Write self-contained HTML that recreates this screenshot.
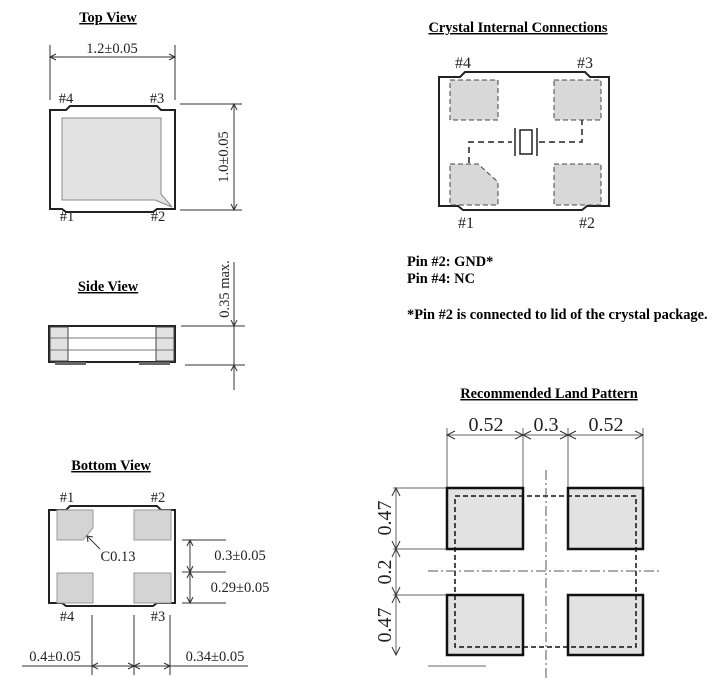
<!DOCTYPE html>
<html><head><meta charset="utf-8"><style>
html,body{margin:0;padding:0;background:#fff;}
svg{display:block;}
.t{font-family:"Liberation Serif",serif;font-weight:bold;font-size:14.4px;text-decoration:underline;}
.d{font-family:"Liberation Serif",serif;font-size:14.5px;fill:#222;}
.b{font-family:"Liberation Serif",serif;font-weight:bold;font-size:14.4px;}
.L{font-family:"Liberation Serif",serif;font-size:20px;fill:#222;}
.p{font-family:"Liberation Serif",serif;font-size:16px;fill:#222;}
</style></head><body>
<svg width="712" height="687" viewBox="0 0 712 687" xmlns="http://www.w3.org/2000/svg">
<g fill="none" stroke="#333" stroke-width="1">
<!-- TOP VIEW -->
<line x1="50" y1="45" x2="50" y2="100"/><line x1="175" y1="45" x2="175" y2="100"/>
<line x1="50" y1="57" x2="175" y2="57"/>
<polyline points="56,54 50,57 56,60"/><polyline points="169,54 175,57 169,60"/>
<path d="M50,110 L50,209 L62,209 L66,212 L153,212 L157,209 L175,209 L175,110 L161,110 L157,106 L70,106 L66,110 Z" stroke="#222" stroke-width="2"/>
<path d="M62,118 L161,118 L161,194 L172,207 L155,200 L62,200 Z" fill="#e2e2e2" stroke="#888"/>
<line x1="180" y1="104" x2="242" y2="104"/><line x1="180" y1="210" x2="242" y2="210"/>
<line x1="234" y1="104" x2="234" y2="210"/>
<polyline points="231,110 234,104 237,110"/><polyline points="231,204 234,210 237,204"/>
<!-- SIDE VIEW -->
<rect x="49" y="326" width="126" height="36" stroke="#222" stroke-width="2"/>
<rect x="50" y="327" width="18" height="34" fill="#e2e2e2" stroke="#444"/>
<rect x="156" y="327" width="18" height="34" fill="#e2e2e2" stroke="#444"/>
<line x1="50" y1="338" x2="174" y2="338" stroke="#777"/><line x1="50" y1="350" x2="174" y2="350" stroke="#777"/>
<rect x="55" y="362" width="31" height="3" fill="#666" stroke="none"/>
<rect x="139" y="362" width="31" height="3" fill="#666" stroke="none"/>
<line x1="181" y1="326" x2="245" y2="326"/><line x1="185" y1="365" x2="245" y2="365"/>
<line x1="234" y1="262" x2="234" y2="390"/>
<polyline points="231,320 234,326 237,320"/><polyline points="231,371 234,365 237,371"/>
<!-- BOTTOM VIEW -->
<path d="M49,510 L49,603 L62,603 L66,606 L153,606 L157,603 L175,603 L175,510 L161,510 L157,506 L70,506 L66,510 Z" stroke="#222" stroke-width="2"/>
<path d="M57,510 L93,510 L93,528 L83,540 L57,540 Z" fill="#d4d4d4" stroke="#999"/>
<rect x="134" y="510" width="37" height="30" fill="#d4d4d4" stroke="#999"/>
<rect x="57" y="573" width="36" height="30" fill="#d4d4d4" stroke="#999"/>
<rect x="134" y="573" width="37" height="30" fill="#d4d4d4" stroke="#999"/>
<line x1="100" y1="549" x2="87" y2="536"/><polyline points="88,542 87,536 93,537"/>
<line x1="182" y1="540" x2="226" y2="540"/><line x1="182" y1="572" x2="226" y2="572"/><line x1="182" y1="603" x2="226" y2="603"/>
<line x1="190" y1="540" x2="190" y2="603"/>
<polyline points="187,546 190,540 193,546"/><polyline points="187,566 190,572 193,566"/>
<polyline points="187,578 190,572 193,578"/><polyline points="187,597 190,603 193,597"/>
<line x1="92" y1="615" x2="92" y2="675"/><line x1="134" y1="615" x2="134" y2="675"/><line x1="170" y1="615" x2="170" y2="675"/>
<line x1="22" y1="666" x2="248" y2="666"/>
<polyline points="98,663 92,666 98,669"/><polyline points="128,663 134,666 128,669"/>
<polyline points="140,663 134,666 140,669"/><polyline points="164,663 170,666 164,669"/>
<!-- CRYSTAL -->
<path d="M439,77 L439,206 L458,206 L463,210 L582,210 L587,206 L609,206 L609,77 L590,77 L585,72 L465,72 L460,77 Z" stroke="#222" stroke-width="2"/>
<g fill="#d8d8d8" stroke="#444" stroke-dasharray="5,3">
<rect x="450" y="80" width="48" height="40"/>
<rect x="554" y="80" width="47" height="40"/>
<path d="M450,164 L478,164 L498,182 L498,205 L450,205 Z"/>
<rect x="554" y="164" width="47" height="41"/>
</g>
<g stroke="#222" stroke-width="1.5">
<polyline points="469,163 469,142 512,142" stroke-dasharray="6,4"/>
<polyline points="539,142 582,142 582,120" stroke-dasharray="6,4"/>
<line x1="515" y1="128" x2="515" y2="156"/><line x1="537" y1="128" x2="537" y2="156"/>
<rect x="520" y="130" width="12" height="24"/>
</g>
<!-- LAND PATTERN -->
<g stroke="#111" stroke-width="2.5" fill="#e2e2e2">
<rect x="447" y="488" width="76" height="61"/><rect x="568" y="488" width="75" height="61"/>
<rect x="447" y="595" width="76" height="60"/><rect x="568" y="595" width="75" height="60"/>
</g>
<rect x="455" y="496" width="181" height="151" stroke="#111" stroke-width="1.5" stroke-dasharray="5,3"/>
<line x1="546" y1="470" x2="546" y2="680" stroke="#555" stroke-dasharray="10,3,2,3"/>
<line x1="428" y1="571" x2="660" y2="571" stroke="#555" stroke-dasharray="10,3,2,3"/>
<line x1="447" y1="428" x2="447" y2="487" stroke="#666"/><line x1="523" y1="428" x2="523" y2="487" stroke="#666"/>
<line x1="568" y1="428" x2="568" y2="487" stroke="#666"/><line x1="643" y1="428" x2="643" y2="487" stroke="#666"/>
<line x1="447" y1="435" x2="643" y2="435" stroke="#666"/>
<polyline points="455,431 447,435 455,439"/><polyline points="515,431 523,435 515,439"/>
<polyline points="531,431 523,435 531,439"/><polyline points="560,431 568,435 560,439"/>
<polyline points="576,431 568,435 576,439"/><polyline points="635,431 643,435 635,439"/>
<line x1="393" y1="488" x2="446" y2="488" stroke="#666"/><line x1="393" y1="549" x2="446" y2="549" stroke="#666"/><line x1="393" y1="595" x2="446" y2="595" stroke="#666"/>
<line x1="396" y1="488" x2="396" y2="655" stroke="#666"/>
<polyline points="392,496 396,488 400,496"/><polyline points="392,541 396,549 400,541"/>
<polyline points="392,557 396,549 400,557"/><polyline points="392,587 396,595 400,587"/>
<polyline points="392,603 396,595 400,603"/><polyline points="392,647 396,655 400,647"/>
<line x1="428" y1="666" x2="486" y2="666" stroke="#666"/>
</g>
<!-- TEXT -->
<text class="t" x="108" y="22" text-anchor="middle">Top View</text>
<text class="d" x="112" y="53" text-anchor="middle">1.2±0.05</text>
<text class="d" x="66" y="103" text-anchor="middle">#4</text><text class="d" x="157" y="103" text-anchor="middle">#3</text>
<text class="d" x="67" y="221" text-anchor="middle">#1</text><text class="d" x="158" y="221" text-anchor="middle">#2</text>
<text class="d" transform="translate(228,157) rotate(-90)" text-anchor="middle">1.0±0.05</text>
<text class="t" x="108" y="291" text-anchor="middle">Side View</text>
<text class="d" transform="translate(229,289) rotate(-90)" text-anchor="middle">0.35 max.</text>
<text class="t" x="111" y="470" text-anchor="middle">Bottom View</text>
<text class="d" x="67" y="502" text-anchor="middle">#1</text><text class="d" x="158" y="502" text-anchor="middle">#2</text>
<text class="d" x="67" y="621" text-anchor="middle">#4</text><text class="d" x="158" y="621" text-anchor="middle">#3</text>
<text class="d" x="118" y="561" text-anchor="middle">C0.13</text>
<text class="d" x="240" y="560" text-anchor="middle">0.3±0.05</text>
<text class="d" x="240" y="592" text-anchor="middle">0.29±0.05</text>
<text class="d" x="55" y="661" text-anchor="middle">0.4±0.05</text>
<text class="d" x="215" y="661" text-anchor="middle">0.34±0.05</text>
<text class="t" x="518" y="32" text-anchor="middle">Crystal Internal Connections</text>
<text class="p" x="463" y="68" text-anchor="middle">#4</text><text class="p" x="585" y="68" text-anchor="middle">#3</text>
<text class="p" x="466" y="228" text-anchor="middle">#1</text><text class="p" x="587" y="228" text-anchor="middle">#2</text>
<text class="b" x="407" y="266">Pin #2: GND*</text>
<text class="b" x="407" y="283">Pin #4: NC</text>
<text class="b" x="407" y="319">*Pin #2 is connected to lid of the crystal package.</text>
<text class="t" x="549" y="398" text-anchor="middle">Recommended Land Pattern</text>
<text class="L" x="486" y="431" text-anchor="middle">0.52</text>
<text class="L" x="546" y="431" text-anchor="middle">0.3</text>
<text class="L" x="606" y="431" text-anchor="middle">0.52</text>
<text class="L" transform="translate(391,518) rotate(-90)" text-anchor="middle">0.47</text>
<text class="L" transform="translate(391,572) rotate(-90)" text-anchor="middle">0.2</text>
<text class="L" transform="translate(391,625) rotate(-90)" text-anchor="middle">0.47</text>
</svg>
</body></html>
